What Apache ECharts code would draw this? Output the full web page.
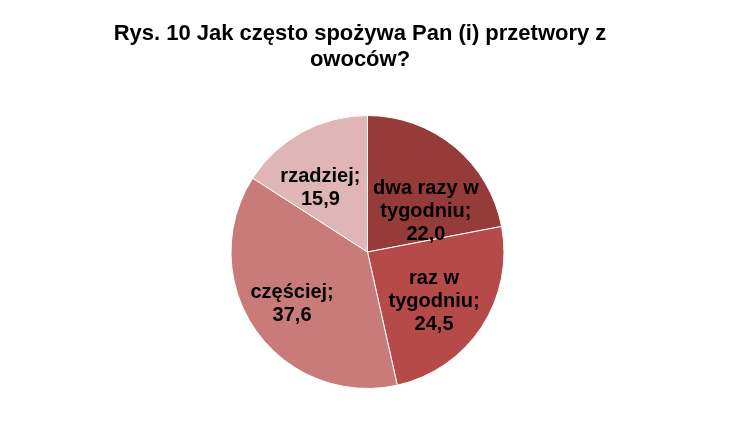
<!DOCTYPE html>
<html>
<head>
<meta charset="utf-8">
<script src="https://cdn.jsdelivr.net/npm/echarts@6/dist/echarts.min.js"></script>
<style>
  html, body { margin: 0; padding: 0; background: #fff; }
  #chart { width: 734px; height: 436px; }
</style>
</head>
<body>
<div id="chart"></div>
<script>
var categories = ['dwa razy w\ntygodniu', 'raz w\ntygodniu', 'częściej', 'rzadziej'];
var values = [22.0, 24.5, 37.6, 15.9];
var colors = ['#953B3A', '#B54A48', '#C97B79', '#DFB5B5'];
// przesuniecia etykiet wzgledem polozenia 'inside'
var labelShift = [[13, 14], [7, 10], [-17, 11], [-13, -1]];

var myChart = echarts.init(document.getElementById('chart'));

var data = [];
categories.forEach(function (c, i) {
  data.push({ name: c, value: values[i], itemStyle: { color: colors[i] } });
});

var option = {
  animation: false,
  title: {
    text: 'Rys. 10 Jak często spożywa Pan (i) przetwory z\nowoców?',
    left: 355,
    top: 16,
    textAlign: 'center',
    textStyle: {
      fontFamily: 'Liberation Sans, Arial, sans-serif',
      fontSize: 22,
      fontWeight: 'bold',
      color: '#000',
      lineHeight: 26
    }
  },
  series: [
    {
      type: 'pie',
      center: [367.5, 252],
      radius: 136.5,
      startAngle: 90,
      clockwise: true,
      data: data,
      itemStyle: { borderColor: '#fff', borderWidth: 1 },
      label: {
        position: 'inside',
        formatter: function (p) { return p.name + ';\n' + p.value.toFixed(1).replace('.', ','); },
        fontFamily: 'Liberation Sans, Arial, sans-serif',
        fontSize: 20,
        fontWeight: 'bold',
        color: '#000',
        lineHeight: 23,
        align: 'center'
      },
      labelLine: { show: false },
      labelLayout: function (p) {
        return { dx: labelShift[p.dataIndex][0], dy: labelShift[p.dataIndex][1] };
      }
    }
  ]
};

myChart.setOption(option);
</script>
</body>
</html>
